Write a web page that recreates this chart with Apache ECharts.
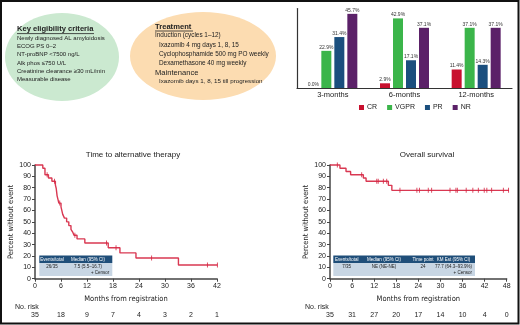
<!DOCTYPE html>
<html>
<head>
<meta charset="utf-8">
<script src="https://cdn.jsdelivr.net/npm/echarts@6/dist/echarts.min.js"></script>
<style>
html, body { margin: 0; padding: 0; background: #fff; }
#figure { width: 520px; height: 325px; }
</style>
</head>
<body>
<div id="figure"></div>
<script>
// hematologic response by time point (%)
var timepoints = ['3-months', '6-months', '12-months'];
var responseNames = ['CR', 'VGPR', 'PR', 'NR'];
var crRates = [0.0, 2.9, 11.4];
var vgprRates = [22.9, 42.9, 37.1];
var prRates = [31.4, 17.1, 14.3];
var nrRates = [45.7, 37.1, 37.1];
var responseColors = ['#c8102e', '#3bb54a', '#1b4f7e', '#5b2168'];

// time to alternative therapy : [month, percent without event]
var ttatSteps = [[0, 100], [1.8, 97.1], [2.3, 91.4], [3.1, 88.6], [3.9, 85.7], [4.7, 82.5], [4.9, 79.3],
    [5.0, 76.1], [5.1, 72.9], [5.3, 69.7], [5.5, 66.5], [6.0, 63.2], [6.2, 59.9], [6.4, 56.6],
    [6.8, 53.3], [7.3, 50.0], [7.8, 46.7], [8.3, 43.4], [8.7, 41.0], [9.0, 38.2], [9.7, 35.0],
    [11.5, 31.4], [16.9, 27.2], [19.6, 22.7], [23.3, 18.2], [33.1, 12.1], [42.1, 12.1]];
var ttatCensors = [[2.8, 91.4], [4.5, 85.7], [5.7, 66.5], [9.2, 38.2], [16.5, 31.4], [18.7, 27.2],
    [26.9, 18.2], [39.8, 12.1], [42.1, 12.1]];
var ttatRisk = [35, 18, 9, 7, 4, 3, 2, 1];

// overall survival
var osSteps = [[0, 100], [2.7, 97.1], [4.35, 94.3], [5.6, 91.4], [9.06, 88.6], [9.8, 85.7],
    [15.85, 82.1], [16.8, 77.7], [48.9, 77.7]];
var osCensors = [[2.0, 100], [8.6, 91.4], [12.7, 85.7], [13.1, 85.7], [14.5, 85.7], [15.4, 85.7],
    [19.0, 77.7], [23.6, 77.7], [24.3, 77.7], [26.7, 77.7], [27.6, 77.7], [32.6, 77.7], [34.2, 77.7],
    [34.6, 77.7], [37.0, 77.7], [38.8, 77.7], [40.3, 77.7], [41.9, 77.7], [42.6, 77.7], [43.9, 77.7],
    [47.1, 77.7], [48.5, 77.7]];
var osRisk = [35, 31, 27, 20, 17, 14, 10, 4, 0];

var criteriaLines = ['Newly diagnosed AL amyloidosis', 'ECOG PS 0\u20132', 'NT-proBNP <7500 ng/L',
    'Alk phos \u2264750 U/L', 'Creatinine clearance \u226530 mL/min', 'Measurable disease'];
var ttatHeader = ['Events/total', 'Median (95% CI)'];
var ttatBody = ['26/35', '7.5 (5.5\u201316.7)'];
var osHeader = ['Events/total', 'Median (95% CI)', 'Time point', 'KM Est (95% CI)'];
var osBody = ['7/35', 'NE (NE-NE)', '24', '77.7 (64.3\u201393.9%)'];

var FONT = "'Liberation Sans', Arial, sans-serif";
var NARROW = "'Liberation Sans Narrow', 'DejaVu Sans Condensed', sans-serif";
var KM_RED = '#d5223f';

var chart = echarts.init(document.getElementById('figure'));

/**
  * Plain text element for the graphic layer
  */
function txt(x, y, s, size, opts) {
    opts = opts || {};
    return {
        type: 'text', x: x, y: y, z: 10,
        style: {
            text: s, fill: opts.fill || '#222', fontSize: size,
            fontWeight: opts.bold ? 'bold' : 'normal', fontFamily: opts.family || FONT,
            align: opts.align || 'left', verticalAlign: 'middle'
        }
    };
}

/**
  * Small info box under a KM curve (blue header + grey body)
  */
function infoBox(x0, x1, centers, header, body) {
    var els = [
        { type: 'rect', z: 9, shape: { x: x0, y: 255.5, width: x1 - x0, height: 7.5 }, style: { fill: '#1f4e79' } },
        { type: 'rect', z: 9, shape: { x: x0, y: 263, width: x1 - x0, height: 13 }, style: { fill: '#c8d6e4' } }
    ];
    for (var i = 0; i < header.length; i++) {
        els.push(txt(centers[i], 259.3, header[i], 4.5, { fill: '#fff', align: 'center' }));
        els.push(txt(centers[i], 266.5, body[i], 4.5, { fill: '#222', align: 'center' }));
    }
    els.push(txt(x1 - 3, 273, '+ Censor', 4.5, { align: 'right' }));
    return els;
}

var graphics = [
    { type: 'rect', z: 20, shape: { x: 1, y: 1, width: 517.5, height: 322.5 }, style: { fill: 'none', stroke: '#111', lineWidth: 2 } },
    { type: 'ellipse', z: 1, shape: { cx: 62, cy: 57, rx: 57, ry: 44 }, style: { fill: '#cbe9d0' } },
    { type: 'ellipse', z: 1, shape: { cx: 203, cy: 56, rx: 73, ry: 44 }, style: { fill: '#fcdcb1' } },
    txt(17, 29.3, 'Key eligibility criteria', 7.6, { bold: true }),
    { type: 'line', z: 10, shape: { x1: 17, y1: 33.6, x2: 94, y2: 33.6 }, style: { stroke: '#222', lineWidth: 0.8 } },
    txt(155, 26.7, 'Treatment', 7.6, { bold: true }),
    { type: 'line', z: 10, shape: { x1: 155, y1: 31, x2: 193, y2: 31 }, style: { stroke: '#222', lineWidth: 0.8 } },
    txt(155, 35, 'Induction (cycles 1\u201312)', 6.4),
    txt(159, 45, 'Ixazomib 4 mg days 1, 8, 15', 6.4),
    txt(159, 54, 'Cyclophosphamide 500 mg PO weekly', 6.4),
    txt(159, 63, 'Dexamethasone 40 mg weekly', 6.4),
    txt(155, 72.7, 'Maintenance', 7.6),
    txt(159, 81.7, 'Ixazomib days 1, 8, 15 till progression', 6.2),
    txt(15, 307, 'No. risk', 7),
    txt(305, 307, 'No. risk', 7)
];
for (var i = 0; i < criteriaLines.length; i++)
    graphics.push(txt(17, 38.3 + i * 8.2, criteriaLines[i], 6));
graphics = graphics.concat(infoBox(39.3, 112.3, [52, 88], ttatHeader, ttatBody));
graphics = graphics.concat(infoBox(333.3, 475, [346.7, 384, 423, 453.5], osHeader, osBody));

var barSets = [crRates, vgprRates, prRates, nrRates];
var series = [];
for (var k = 0; k < barSets.length; k++) {
    series.push({
        name: responseNames[k], type: 'bar', xAxisIndex: 0, yAxisIndex: 0,
        data: barSets[k], barWidth: 10, barGap: '30%',
        itemStyle: { color: responseColors[k] },
        label: {
            show: true, position: 'top', distance: 1, fontSize: 5, color: '#333', fontFamily: FONT,
            formatter: function (p) { return p.value.toFixed(1) + '%'; }
        }
    });
}

// KM curve + censor ticks for one grid
function kmSeries(steps, censors, axisIdx) {
    return [{
        type: 'line', step: 'end', xAxisIndex: axisIdx, yAxisIndex: axisIdx, data: steps,
        showSymbol: false, clip: false, silent: true,
        lineStyle: { color: KM_RED, width: 1.4, opacity: 0.9 }
    }, {
        type: 'scatter', xAxisIndex: axisIdx, yAxisIndex: axisIdx, data: censors,
        symbol: 'rect', symbolSize: [1, 5], clip: false,
        itemStyle: { color: KM_RED }
    }];
}
series = series.concat(kmSeries(ttatSteps, ttatCensors, 1));
series = series.concat(kmSeries(osSteps, osCensors, 2));

var axisLine = { lineStyle: { color: '#444', width: 1.5 } };
var tickLabel = { fontSize: 7, color: '#222', fontFamily: FONT, margin: 4 };

function kmXAxis(grid, max) {
    return {
        type: 'value', gridIndex: grid, min: 0, max: max, interval: 6,
        axisLine: axisLine, axisTick: { length: 3, lineStyle: { color: '#444' } },
        axisLabel: tickLabel, splitLine: { show: false },
        name: 'Months from registration', nameLocation: 'middle', nameGap: 16,
        nameTextStyle: { fontSize: 7.5, color: '#222', fontFamily: NARROW }
    };
}
// second x axis below each KM plot that prints the number at risk
function riskAxis(grid, max, risk) {
    return {
        type: 'value', gridIndex: grid, min: 0, max: max, interval: 6, position: 'bottom', offset: 29,
        axisLine: { show: false }, axisTick: { show: false }, splitLine: { show: false },
        axisLabel: {
            fontSize: 7, color: '#222', fontFamily: FONT, margin: 4,
            formatter: function (v) { return String(risk[Math.round(v / 6)]); }
        }
    };
}
function kmYAxis(grid) {
    return {
        type: 'value', gridIndex: grid, min: 0, max: 100, interval: 10,
        axisLine: { show: true, lineStyle: { color: '#444', width: 1.5 } },
        axisTick: { show: true, length: 3, lineStyle: { color: '#444' } },
        axisLabel: tickLabel, splitLine: { show: false },
        name: 'Percent without event', nameLocation: 'middle', nameGap: 19,
        nameTextStyle: { fontSize: 7.5, color: '#222', fontFamily: NARROW }
    };
}

var option = {
    animation: false,
    textStyle: { fontFamily: FONT },
    title: [
        { text: 'Time to alternative therapy', left: 128, top: 146, textAlign: 'center',
          textStyle: { fontSize: 8, fontWeight: 'normal', color: '#222', fontFamily: FONT } },
        { text: 'Overall survival', left: 422, top: 146, textAlign: 'center',
          textStyle: { fontSize: 8, fontWeight: 'normal', color: '#222', fontFamily: FONT } }
    ],
    legend: {
        data: responseNames, left: 354, top: 99, icon: 'rect', itemWidth: 5, itemHeight: 5, itemGap: 10,
        textStyle: { fontSize: 7, color: '#222', fontFamily: FONT, padding: [0, 0, 0, -2] }
    },
    grid: [
        { left: 297, right: 8, top: 8.5, bottom: 237 },
        { left: 35, right: 303, top: 165, bottom: 46.3 },
        { left: 330, right: 13.3, top: 165, bottom: 46.3 }
    ],
    xAxis: [
        {
            type: 'category', gridIndex: 0, data: timepoints,
            axisLine: { lineStyle: { color: '#333', width: 1.2 } },
            axisTick: { alignWithLabel: true, length: 3, lineStyle: { color: '#333' } },
            axisLabel: { fontSize: 7.5, color: '#222', fontFamily: FONT, margin: 3 }
        },
        kmXAxis(1, 42),
        kmXAxis(2, 48),
        riskAxis(1, 42, ttatRisk),
        riskAxis(2, 48, osRisk)
    ],
    yAxis: [
        {
            type: 'value', gridIndex: 0, min: 0, max: 49,
            axisLine: { show: true, lineStyle: { color: '#333', width: 1.2 } },
            axisTick: { show: false }, axisLabel: { show: false }, splitLine: { show: false }
        },
        kmYAxis(1),
        kmYAxis(2)
    ],
    series: series,
    graphic: graphics
};

chart.setOption(option);
</script>
</body>
</html>
